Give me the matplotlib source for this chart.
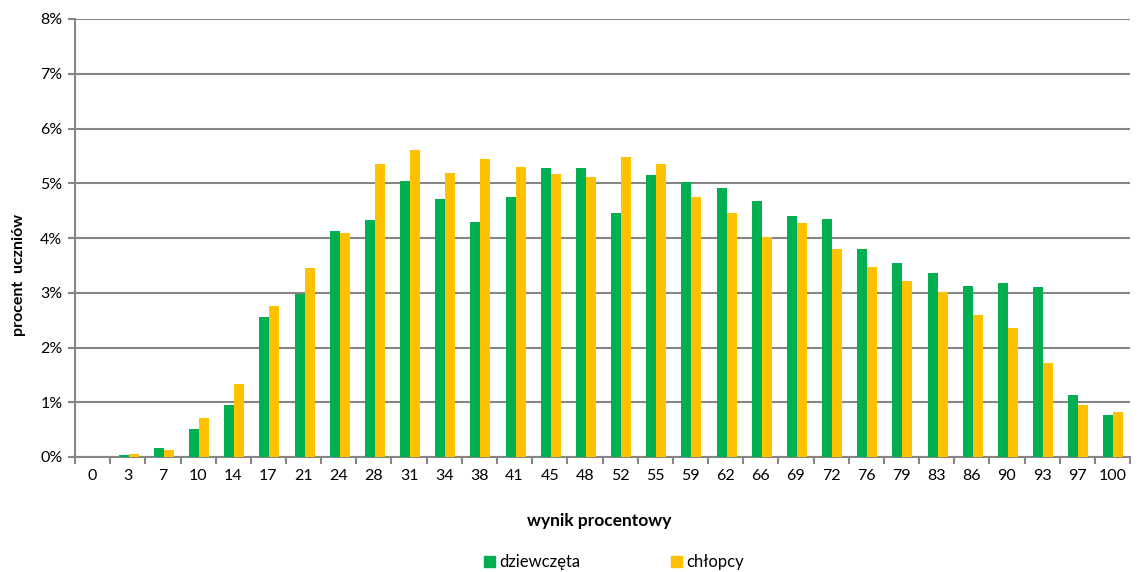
import matplotlib
matplotlib.use("Agg")
import matplotlib.pyplot as plt
import numpy as np
from matplotlib.patches import Patch

categories = ["0", "3", "7", "10", "14", "17", "21", "24", "28", "31", "34", "38", "41", "45", "48",
              "52", "55", "59", "62", "66", "69", "72", "76", "79", "83", "86", "90", "93", "97", "100"]
girls = [0.0, 0.04, 0.16, 0.51, 0.95, 2.55, 2.98, 4.13, 4.32, 5.05, 4.71, 4.30, 4.75, 5.27, 5.27,
         4.45, 5.15, 5.02, 4.92, 4.67, 4.40, 4.34, 3.79, 3.55, 3.36, 3.12, 3.17, 3.10, 1.14, 0.77]
boys = [0.0, 0.06, 0.13, 0.71, 1.34, 2.75, 3.45, 4.09, 5.35, 5.61, 5.19, 5.45, 5.30, 5.17, 5.11,
        5.48, 5.35, 4.75, 4.46, 4.01, 4.27, 3.79, 3.47, 3.22, 3.01, 2.59, 2.35, 1.71, 0.95, 0.83]
yticks = [0, 1, 2, 3, 4, 5, 6, 7, 8]

plt.rcParams['font.family'] = ['Lato', 'DejaVu Sans']

GREEN = "#00B050"
YELLOW = "#FFC000"
GRID = "#868686"

fig = plt.figure(figsize=(11.41, 5.72), dpi=100)
ax = fig.add_axes([75/1141, 1-457/572, (1130-75)/1141, (457-19)/572])

x = np.arange(len(categories))
w = 0.285
ax.bar(x - w/2 + 0.03, girls, width=w, color=GREEN, zorder=3)
ax.bar(x + w/2 + 0.03, boys, width=w, color=YELLOW, zorder=3)

ax.set_xlim(-0.5, len(categories) - 0.5)
ax.set_ylim(0, 8)
ax.set_yticks(yticks)
ax.set_yticklabels([f"{v}%" for v in yticks], fontsize=11.5)
ax.yaxis.grid(True, color=GRID, linewidth=1.5, zorder=0)
ax.set_axisbelow(True)

ax.set_xticks(x)
ax.set_xticklabels(categories, fontsize=11.5)
ax.set_xticks(np.arange(-0.5, len(categories)), minor=True)
ax.tick_params(axis='x', which='major', length=0, pad=9)
ax.tick_params(axis='x', which='minor', length=5, color=GRID, width=1.5, direction='out')
ax.tick_params(axis='y', length=5, color=GRID, width=1.5, direction='out', pad=4)

for s in ['top', 'right']:
    ax.spines[s].set_visible(False)
for s in ['left', 'bottom']:
    ax.spines[s].set_color(GRID)
    ax.spines[s].set_linewidth(1.5)

fig.text(19/1141, 1-275/572, "procent  uczniów", fontsize=11.5, fontweight='bold',
         rotation=90, ha='center', va='center')
fig.text(599/1141, 1-521/572, "wynik procentowy", fontsize=12.5, fontweight='bold',
         ha='center', va='center')

handles = [Patch(color=GREEN), Patch(color=YELLOW)]
fig.legend(handles, ["dziewczęta", "chłopcy"], loc='center', bbox_to_anchor=(614/1141, 1-562/572),
           ncol=2, frameon=False, fontsize=12, handlelength=0.65, handleheight=0.65,
           handletextpad=0.3, columnspacing=5.4)

fig.savefig("out.png", dpi=100)
